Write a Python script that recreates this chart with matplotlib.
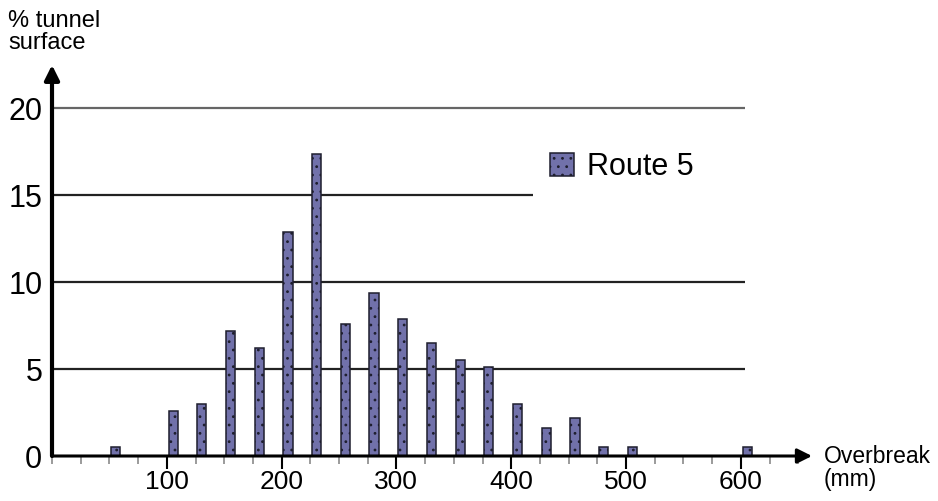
import matplotlib
matplotlib.use('Agg')
import matplotlib.pyplot as plt
from matplotlib.ticker import MultipleLocator

# overbreak bins (mm, bin start) and share of tunnel surface (%)
bin_start = [50, 100, 125, 150, 175, 200, 225, 250, 275, 300,
             325, 350, 375, 400, 425, 450, 475, 500, 600]
pct_surface = [0.5, 2.6, 3.0, 7.2, 6.2, 12.9, 17.4, 7.6, 9.4, 7.9,
               6.5, 5.5, 5.1, 3.0, 1.6, 2.2, 0.5, 0.5, 0.5]
y_ticks = [0, 5, 10, 15, 20]
x_ticks = [100, 200, 300, 400, 500, 600]
series_name = "Route 5"

plt.rcParams['font.family'] = ['Liberation Sans', 'DejaVu Sans']
plt.rcParams['hatch.color'] = '#34345c'
plt.rcParams['hatch.linewidth'] = 0.8

fig = plt.figure(figsize=(9.38, 5.01), dpi=100, facecolor='white')
ax = fig.add_axes([52 / 938, 45 / 501, 760 / 938, 391 / 501])
ax.set_xlim(0, 662)
ax.set_ylim(0, 22.5)

# gridlines (drawn under bars)
ax.hlines(20, 0, 604, color='#666666', lw=1.6, zorder=1)
ax.hlines(15, 0, 419, color='#222222', lw=1.6, zorder=1)
ax.hlines([5, 10], 0, 604, color='#222222', lw=1.6, zorder=1)

bars = ax.bar([b + 1.5 for b in bin_start], pct_surface, width=8, align='edge',
              color='#7171aa', edgecolor='#1e1e2e', linewidth=1.1,
              hatch='..', label=series_name, zorder=3)

for s in ax.spines.values():
    s.set_visible(False)

# arrowed axes
ax.annotate('', xy=(662, 0), xytext=(0, 0), annotation_clip=False,
            arrowprops=dict(arrowstyle='-|>', lw=2.2, color='black',
                            mutation_scale=22, shrinkA=0, shrinkB=0), zorder=5)
ax.annotate('', xy=(0, 22.5), xytext=(0, 0), annotation_clip=False,
            arrowprops=dict(arrowstyle='-|>', lw=3, color='black',
                            mutation_scale=22, shrinkA=0, shrinkB=0), zorder=5)

ax.set_yticks(y_ticks)
ax.set_yticklabels([str(v) for v in y_ticks], fontsize=22)
ax.tick_params(axis='y', length=0, pad=7)

ax.set_xticks(x_ticks)
ax.set_xticklabels([str(v) for v in x_ticks], fontsize=19)
ax.xaxis.set_minor_locator(MultipleLocator(25))
ax.tick_params(axis='x', which='major', length=9, width=1.5, color='black', pad=1)
ax.tick_params(axis='x', which='minor', length=6, width=1.2, color='#8a8a8a')

fig.text(8 / 938, 1 - 10 / 501, "% tunnel\nsurface", fontsize=17,
         ha='left', va='top', linespacing=1.0)
fig.text(824 / 938, 1 - 445 / 501, "Overbreak\n(mm)", fontsize=16.5,
         ha='left', va='top', linespacing=1.0)

ax.legend(handles=[bars], loc='center left', frameon=False, fontsize=22,
          bbox_to_anchor=(550 / 938, 1 - 167 / 501), bbox_transform=fig.transFigure,
          borderpad=0, borderaxespad=0, handlelength=0.8, handleheight=0.8,
          handletextpad=0.4)

fig.savefig('out.png', dpi=100, facecolor='white')
